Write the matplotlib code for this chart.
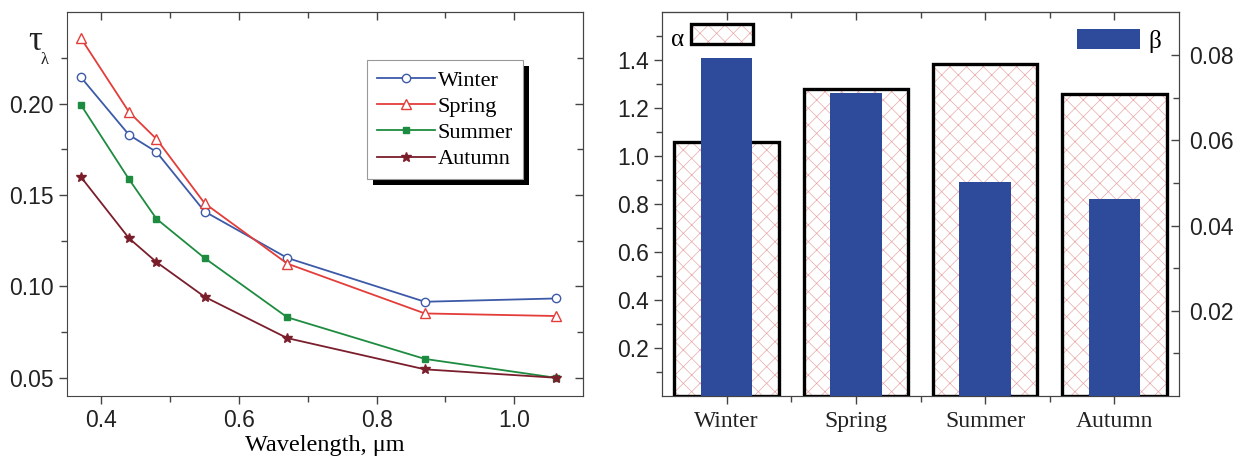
import matplotlib
matplotlib.use('Agg')
import matplotlib.pyplot as plt
from matplotlib.ticker import FixedLocator, FormatStrFormatter
from matplotlib.patches import Patch, Rectangle

# spectral aerosol optical depth by season
wavelength = [0.37, 0.44, 0.48, 0.55, 0.67, 0.87, 1.06]
tau_winter = [0.2146, 0.183, 0.1736, 0.141, 0.1156, 0.0916, 0.0934]
tau_spring = [0.236, 0.1955, 0.1807, 0.1455, 0.1125, 0.0852, 0.0838]
tau_summer = [0.1995, 0.1587, 0.137, 0.1155, 0.0831, 0.0603, 0.050]
tau_autumn = [0.160, 0.1264, 0.1133, 0.0943, 0.0717, 0.0546, 0.050]

# Angstrom parameters
seasons = ['Winter', 'Spring', 'Summer', 'Autumn']
alpha_vals = [1.06, 1.28, 1.385, 1.26]
beta_vals = [0.0792, 0.0710, 0.0502, 0.0462]

SANS = 'Liberation Sans'
SERIF = 'Liberation Serif'
NUM_SIZE = 16.5
HATCH_COLOR = '#e8a8a8'
BETA_COLOR = '#2e4a9b'
plt.rcParams['font.family'] = SANS
plt.rcParams['hatch.linewidth'] = 0.5
plt.rcParams['axes.edgecolor'] = '#444444'
plt.rcParams['xtick.color'] = '#444444'
plt.rcParams['ytick.color'] = '#444444'
plt.rcParams['xtick.labelcolor'] = '#222222'
plt.rcParams['ytick.labelcolor'] = '#222222'

fig = plt.figure(figsize=(12.39, 4.61), dpi=100)
ax1 = fig.add_axes([0.0541, 0.141, 0.4165, 0.832])
ax2 = fig.add_axes([0.5343, 0.141, 0.4173, 0.832])


def inner_ticks(sec, major, minor):
    sec.set_ticks(major)
    sec.set_ticks(minor, minor=True)
    sec.tick_params(which='both', direction='in', width=1.0,
                    labeltop=False, labelright=False)
    sec.tick_params(which='major', length=6)
    sec.tick_params(which='minor', length=4)


class HatchedBoxHandler:
    """Legend key: pink cross-hatch inside a thick black frame."""
    def legend_artist(self, legend, orig_handle, fontsize, handlebox):
        x0, y0 = handlebox.xdescent, handlebox.ydescent
        w, h = handlebox.width, handlebox.height
        tr = handlebox.get_transform()
        fill = Rectangle((x0, y0), w, h, facecolor='white', edgecolor=HATCH_COLOR,
                         hatch='xx', linewidth=0, transform=tr)
        frame = Rectangle((x0, y0), w, h, fill=False, edgecolor='black',
                          linewidth=2.4, transform=tr)
        handlebox.add_artist(fill)
        handlebox.add_artist(frame)
        return frame


# ---- left panel: optical depth vs wavelength
ax1.plot(wavelength, tau_winter, '-o', color='#3d5aa8', mfc='white', mec='#3d5aa8',
         ms=6, lw=1.3, label='Winter')
ax1.plot(wavelength, tau_spring, '-^', color='#e33d3a', mfc='white', mec='#e33d3a',
         ms=7, lw=1.3, label='Spring')
ax1.plot(wavelength, tau_summer, '-s', color='#1e8c40', ms=5, lw=1.3, label='Summer')
ax1.plot(wavelength, tau_autumn, '-*', color='#7a1e2c', ms=7, lw=1.3, label='Autumn')

x_major = [0.4, 0.6, 0.8, 1.0]
x_minor = [0.5, 0.7, 0.9]
y_major = [0.05, 0.10, 0.15, 0.20]
y_minor = [0.075, 0.125, 0.175, 0.225]
ax1.set_xlim(0.35, 1.1)
ax1.set_ylim(0.04, 0.25)
ax1.xaxis.set_major_locator(FixedLocator(x_major))
ax1.xaxis.set_minor_locator(FixedLocator(x_minor))
ax1.yaxis.set_major_locator(FixedLocator(y_major))
ax1.yaxis.set_minor_locator(FixedLocator(y_minor))
ax1.xaxis.set_major_formatter(FormatStrFormatter('%.1f'))
ax1.yaxis.set_major_formatter(FormatStrFormatter('%.2f'))
ax1.tick_params(which='major', direction='out', length=6, width=1.0,
                labelsize=NUM_SIZE, pad=3.5)
ax1.tick_params(which='minor', direction='out', length=4, width=1.0)

inner_ticks(ax1.secondary_xaxis('top'), x_major, x_minor)
inner_ticks(ax1.secondary_yaxis('right'), y_major, y_minor)

ax1.set_xlabel('Wavelength, \u03bcm', family=SERIF, fontsize=17.5, labelpad=2)
ax1.text(-0.062, 0.925, '\u03c4', transform=ax1.transAxes, family=SERIF,
         fontsize=25, ha='center', va='center', color='#222222')
ax1.text(-0.043, 0.875, '\u03bb', transform=ax1.transAxes, family=SERIF,
         fontsize=12, ha='center', va='center', color='#222222')

leg1 = ax1.legend(loc='upper left', bbox_to_anchor=(0.581, 0.875), borderaxespad=0,
                  prop={'family': SERIF, 'size': 16}, handlelength=2.6,
                  handletextpad=0.15, labelspacing=0.25, borderpad=0.45,
                  fancybox=False, framealpha=1, edgecolor='#999999')
leg1.get_frame().set_linewidth(0.8)

# ---- right panel: alpha (hatched) and beta (solid) per season
pos = list(range(1, len(seasons) + 1))
ax2.bar(pos, alpha_vals, width=0.81, color='white', edgecolor=HATCH_COLOR,
        hatch='xx', linewidth=0, zorder=2)
ax2.bar(pos, alpha_vals, width=0.81, fill=False, edgecolor='black',
        linewidth=2.4, zorder=3)
ax2.set_xlim(0.5, 4.5)
ax2.set_ylim(0, 1.6)
a_major = [0.2, 0.4, 0.6, 0.8, 1.0, 1.2, 1.4]
a_minor = [0.1, 0.3, 0.5, 0.7, 0.9, 1.1, 1.3, 1.5]
ax2.xaxis.set_major_locator(FixedLocator(pos))
ax2.xaxis.set_minor_locator(FixedLocator([1.5, 2.5, 3.5]))
ax2.yaxis.set_major_locator(FixedLocator(a_major))
ax2.yaxis.set_minor_locator(FixedLocator(a_minor))
ax2.yaxis.set_major_formatter(FormatStrFormatter('%.1f'))
ax2.tick_params(which='major', direction='out', length=6, width=1.0,
                labelsize=NUM_SIZE, pad=3.5)
ax2.tick_params(axis='x', which='major', pad=5)
ax2.tick_params(which='minor', direction='out', length=4, width=1.0)
ax2.set_xticklabels(seasons, family=SERIF, fontsize=17)

inner_ticks(ax2.secondary_xaxis('top'), pos, [1.5, 2.5, 3.5])

ax3 = ax2.twinx()
ax3.bar(pos, beta_vals, width=0.40, color=BETA_COLOR, zorder=4)
ax3.set_ylim(0, 0.09)
ax3.yaxis.set_major_locator(FixedLocator([0.02, 0.04, 0.06, 0.08]))
ax3.yaxis.set_minor_locator(FixedLocator([0.01, 0.03, 0.05, 0.07]))
ax3.yaxis.set_major_formatter(FormatStrFormatter('%.2f'))
ax3.tick_params(which='major', direction='in', length=6, labelsize=NUM_SIZE,
                pad=7, width=1.0)
ax3.tick_params(which='minor', direction='in', length=4, width=1.0)

alpha_key = Patch()
leg_a = ax2.legend([alpha_key], ['\u03b1'], loc='upper left',
                   handler_map={alpha_key: HatchedBoxHandler()},
                   bbox_to_anchor=(0.008, 0.975), borderaxespad=0, borderpad=0.2,
                   frameon=False, markerfirst=False, handlelength=2.5,
                   handleheight=0.85, handletextpad=0.25,
                   prop={'family': SERIF, 'size': 18})
leg_b = ax3.legend([Patch(facecolor=BETA_COLOR)], ['\u03b2'], loc='upper right',
                   bbox_to_anchor=(0.975, 0.97), borderaxespad=0, borderpad=0.2,
                   frameon=False, handlelength=2.5, handleheight=0.85,
                   handletextpad=0.35, prop={'family': SERIF, 'size': 18})

# black drop shadow behind the left legend box
fig.canvas.draw()
bb = leg1.get_window_extent()
shadow = Rectangle((bb.x0 + 6, bb.y0 - 6), bb.width, bb.height, transform=None,
                   facecolor='black', edgecolor='none', zorder=4.9)
ax1.add_artist(shadow)
leg1.set_zorder(6)

fig.savefig('out.png', dpi=100)
